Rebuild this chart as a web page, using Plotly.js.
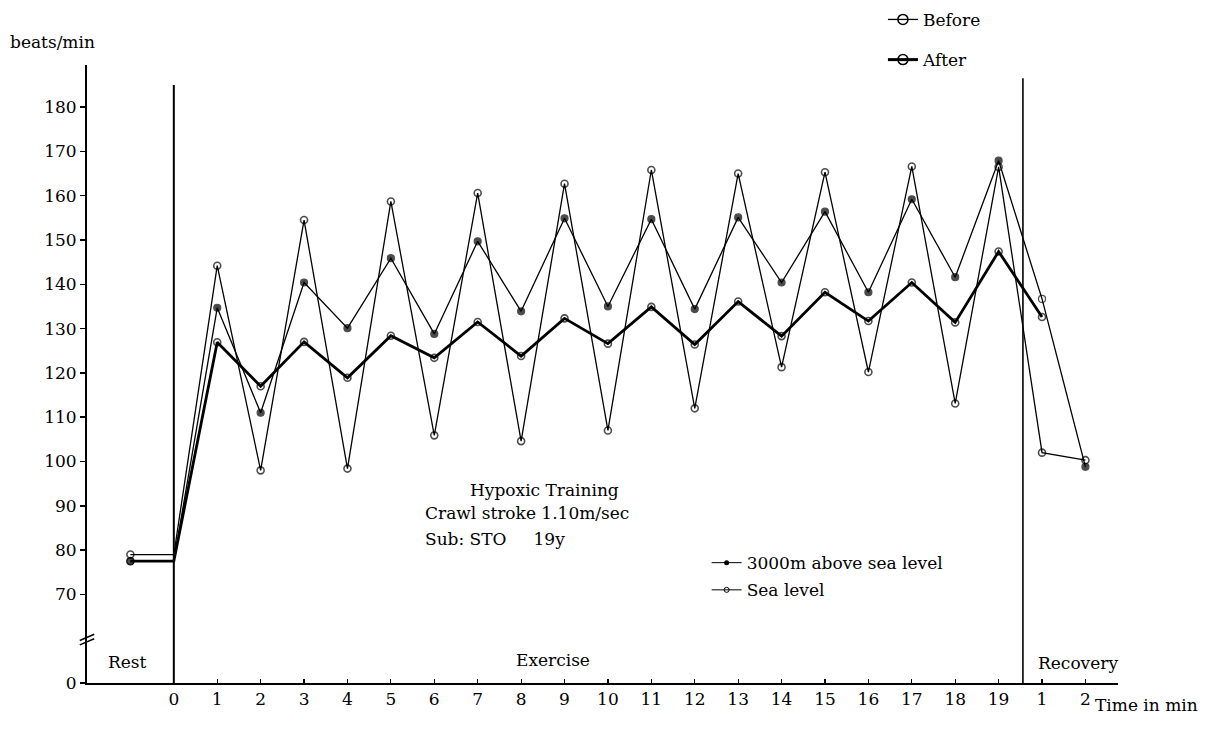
<!DOCTYPE html>
<html>
<head>
<meta charset="utf-8">
<script src="https://cdn.plot.ly/plotly-3.0.1.min.js"></script>
<style>html,body{margin:0;padding:0;background:#fff;}#chart{width:1210px;height:743px;}</style>
</head>
<body>
<div id="chart"></div>
<script>
// Time positions: -1 = rest, 0..19 = exercise minutes, 20..21 = recovery minutes 1..2
var timePos = [-1,0,1,2,3,4,5,6,7,8,9,10,11,12,13,14,15,16,17,18,19,20,21];
var xTickVals = [0,1,2,3,4,5,6,7,8,9,10,11,12,13,14,15,16,17,18,19,20,21];
var xTickText = ["0","1","2","3","4","5","6","7","8","9","10","11","12","13","14","15","16","17","18","19","1","2"];
var yTickVals = [50,70,80,90,100,110,120,130,140,150,160,170,180];
var yTickText = ["0","70","80","90","100","110","120","130","140","150","160","170","180"];

// Before training, sea level (thin line, open circles)
var seaBefore = [79,79,144.2,98.0,154.5,98.4,158.7,105.9,160.6,104.6,162.7,107.0,165.8,112.0,165.0,121.3,165.3,120.2,166.6,113.1,166.5,102.0,100.3];
// Before training, 3000m above sea level (thin line, filled dots)
var alt3000 = [77.5,77.5,134.7,111.0,140.4,130.1,145.9,128.8,149.7,133.9,154.9,135.0,154.7,134.4,155.1,140.4,156.4,138.2,159.2,141.6,167.9,136.7,98.8];
// After training, sea level (thick line, open circles)
var seaAfter = [77.5,77.5,126.9,117.0,127.0,118.9,128.4,123.4,131.5,123.8,132.3,126.6,134.9,126.4,136.1,128.3,138.2,131.7,140.4,131.4,147.4,132.6,null];

var FONT = "DejaVu Serif";
var BLK = "#000";

function sizes(n, s) { var a = []; for (var i = 0; i < n; i++) a.push(i === 1 ? 0 : s); return a; }
var altSymbols = timePos.map(function (t) { return t === 20 ? "circle-open" : "circle"; });

var traces = [
  { x: timePos, y: seaBefore, mode: "lines+markers", showlegend: false,
    line: { color: BLK, width: 1.3 },
    marker: { symbol: "circle-open", size: sizes(timePos.length, 7), color: BLK, line: { width: 1.6, color: BLK } } },
  { x: timePos, y: seaAfter, mode: "lines+markers", showlegend: false,
    line: { color: BLK, width: 2.8 },
    marker: { symbol: "circle-open", size: sizes(timePos.length, 7), color: BLK, line: { width: 1.6, color: BLK } } },
  { x: timePos, y: alt3000, mode: "lines+markers", showlegend: false,
    line: { color: BLK, width: 1.3 },
    marker: { symbol: altSymbols, size: sizes(timePos.length, 7), color: BLK, line: { width: 1.2, color: BLK } } },
  // legend entries
  { x: [null], y: [null], name: "Before", mode: "lines+markers", legend: "legend",
    line: { color: BLK, width: 1.3 }, marker: { symbol: "circle-open", size: 10, color: BLK, line: { width: 1.5 } } },
  { x: [null], y: [null], name: "After", mode: "lines+markers", legend: "legend2",
    line: { color: BLK, width: 3 }, marker: { symbol: "circle-open", size: 10, color: BLK, line: { width: 1.5 } } },
  { x: [null], y: [null], name: "3000m above sea level", mode: "lines+markers", legend: "legend3",
    line: { color: BLK, width: 1 }, marker: { symbol: "circle", size: 5, color: BLK } },
  { x: [null], y: [null], name: "Sea level", mode: "lines+markers", legend: "legend4",
    line: { color: BLK, width: 1 }, marker: { symbol: "circle-open", size: 5, color: BLK, line: { width: 1 } } }
];

function lg(x, y) {
  return { x: x, y: y, xanchor: "left", yanchor: "middle", bgcolor: "rgba(0,0,0,0)",
           font: { family: FONT, size: 17, color: BLK }, itemclick: false, itemdoubleclick: false };
}

var layout = {
  width: 1210, height: 743,
  margin: { l: 87, r: 92, t: 65, b: 60, autoexpand: false },
  paper_bgcolor: "#fff", plot_bgcolor: "#fff",
  showlegend: true,
  legend: lg(0.772, 1.073),
  legend2: lg(0.772, 1.008),
  legend3: lg(0.601, 0.194),
  legend4: lg(0.601, 0.150),
  xaxis: {
    range: [-2, 21.75], showgrid: false, zeroline: false,
    showline: true, linecolor: BLK, linewidth: 2,
    tickmode: "array", tickvals: xTickVals, ticktext: xTickText,
    ticks: "inside", ticklen: 4, tickwidth: 1.2, tickcolor: BLK,
    tickfont: { family: FONT, size: 17, color: BLK }
  },
  yaxis: {
    range: [50, 189.5], showgrid: false, zeroline: false,
    showline: true, linecolor: BLK, linewidth: 2,
    tickmode: "array", tickvals: yTickVals, ticktext: yTickText,
    ticks: "outside", ticklen: 5, tickwidth: 1.5, tickcolor: BLK,
    tickfont: { family: FONT, size: 17, color: BLK }
  },
  shapes: [
    { type: "line", xref: "x", yref: "y", x0: 0, x1: 0, y0: 50, y1: 185, line: { color: BLK, width: 2 } },
    { type: "line", xref: "x", yref: "y", x0: 19.56, x1: 19.56, y0: 50, y1: 186.5, line: { color: BLK, width: 1.6 } },
    // axis break marks
    { type: "line", xref: "paper", yref: "y", x0: -0.007, x1: 0.007, y0: 58.6, y1: 60.0, line: { color: BLK, width: 1.5 } },
    { type: "line", xref: "paper", yref: "y", x0: -0.007, x1: 0.007, y0: 59.6, y1: 61.0, line: { color: BLK, width: 1.5 } }
  ],
  annotations: [
    { xref: "paper", yref: "paper", x: -0.077, y: 1.037, xanchor: "left", yanchor: "middle", showarrow: false,
      text: "beats/min", font: { family: FONT, size: 17, color: BLK } },
    { xref: "paper", yref: "paper", x: 1.0795, y: -0.036, xanchor: "right", yanchor: "middle", showarrow: false,
      text: "Time in min", font: { family: FONT, size: 17, color: BLK } },
    { xref: "x", yref: "y", x: -1.06, y: 54.7, showarrow: false, text: "Rest", font: { family: FONT, size: 17, color: BLK } },
    { xref: "x", yref: "y", x: 8.73, y: 55.2, showarrow: false, text: "Exercise", font: { family: FONT, size: 17, color: BLK } },
    { xref: "x", yref: "y", x: 20.83, y: 54.5, showarrow: false, text: "Recovery", font: { family: FONT, size: 17, color: BLK } },
    { xref: "x", yref: "y", x: 8.55, y: 93.6, showarrow: false, text: "Hypoxic Training", font: { family: FONT, size: 17, color: BLK } },
    { xref: "x", yref: "y", x: 5.74, y: 88.4, xanchor: "left", showarrow: false, text: "Crawl stroke 1.10m/sec", font: { family: FONT, size: 17, color: BLK } },
    { xref: "x", yref: "y", x: 5.74, y: 82.5, xanchor: "left", showarrow: false, text: "Sub: STO\u00a0\u00a0\u00a0\u00a0 19y", font: { family: FONT, size: 17, color: BLK } }
  ]
};

Plotly.newPlot("chart", traces, layout, { staticPlot: true, displayModeBar: false });
</script>
</body>
</html>
